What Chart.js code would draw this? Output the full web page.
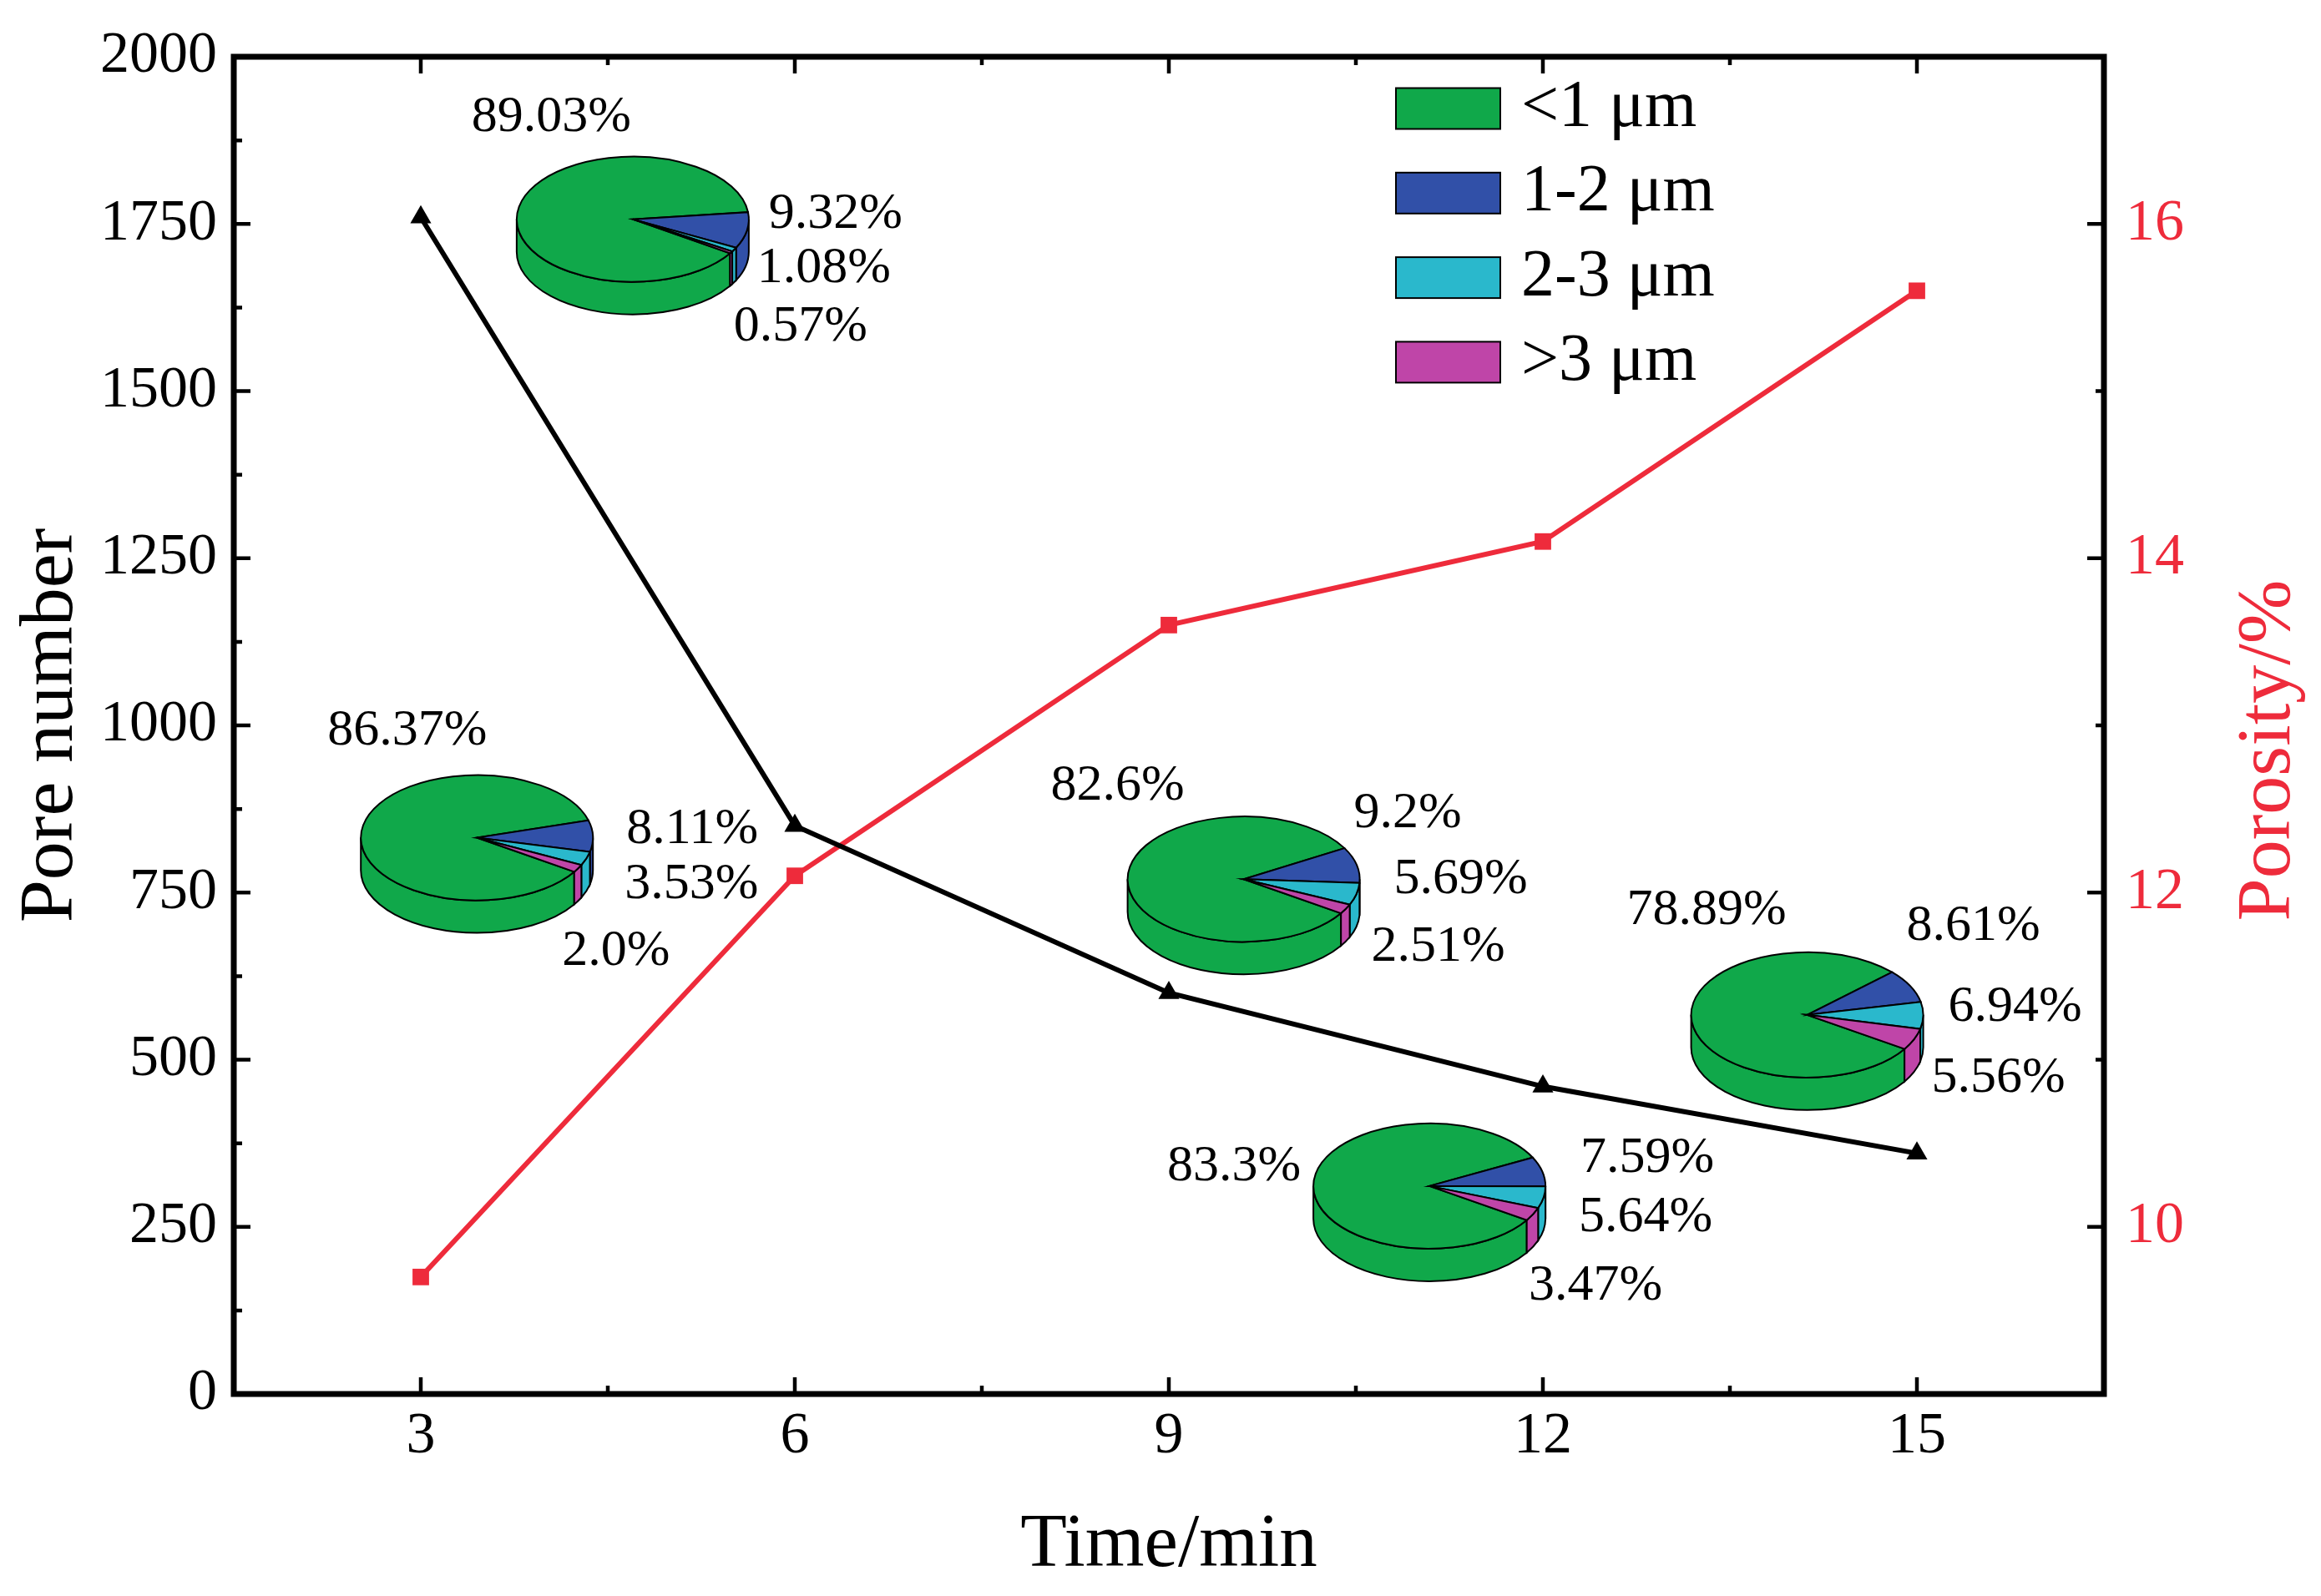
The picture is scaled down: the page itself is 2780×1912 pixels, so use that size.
<!DOCTYPE html>
<html>
<head>
<meta charset="utf-8">
<script src="https://cdn.jsdelivr.net/npm/chart.js@4.4.1/dist/chart.umd.min.js"></script>
<style>
  html, body { margin: 0; padding: 0; background: #fff; }
  canvas { display: block; }
</style>
</head>
<body>
<canvas id="poreChart" width="2780" height="1912"></canvas>
<script>
// Data
const times = [3, 6, 9, 12, 15];
const poreNumber = [1760, 850, 600, 460, 360];
const porosity = [9.7, 12.1, 13.6, 14.1, 15.6];
const poreTicks = [0, 250, 500, 750, 1000, 1250, 1500, 1750, 2000];
const porosityTicks = [10, 12, 14, 16];

// Pore size shares per pie (%), one entry per time step
const sizeClasses = ['<1 μm', '1-2 μm', '2-3 μm', '>3 μm'];
const shareLt1 = ['89.03', '86.37', '82.6', '83.3', '78.89'];
const share1to2 = ['9.32', '8.11', '9.2', '7.59', '8.61'];
const share2to3 = ['1.08', '3.53', '5.69', '5.64', '6.94'];
const shareGt3 = ['0.57', '2.0', '2.51', '3.47', '5.56'];

// Layout / styles
const FONT = '"Liberation Serif", "Times New Roman", serif';
const RED = '#ee2b3b';
const sliceColors = ['#10a84a', '#3150a8', '#2ab8cc', '#bf45a8'];
const PIE_RX = 139, PIE_RY = 75, PIE_DEPTH = 39;
const PIE_START = 33 * Math.PI / 180;
// pie centres in data units (time, pore number) and label offsets in px from the centre
const pieSpots = [
    { x: 4.70, y: 1757, labels: [[-193, -122], [163, -6], [149, 59], [121, 129]] },
    { x: 3.45, y: 832,  labels: [[-179, -128], [179, -10], [177, 56], [102, 136]] },
    { x: 9.60, y: 770,  labels: [[-231, -112], [132, -79], [180, 0], [153, 81]] },
    { x: 11.09, y: 311, labels: [[-314, -23], [181, -33], [179, 38], [119, 120]] },
    { x: 14.12, y: 567, labels: [[-216, -125], [119, -106], [169, -9], [149, 76]] }
];

// 3D pies and their labels
const piePlugin = {
    id: 'pies',
    afterDatasetsDraw(chart) {
        const { ctx, scales: { x, y } } = chart;
        ctx.save();
        ctx.lineWidth = 2;
        ctx.strokeStyle = '#000';
        pieSpots.forEach((spot, i) => {
            const cx = x.getPixelForValue(spot.x);
            const cy = y.getPixelForValue(spot.y);
            const texts = [shareLt1[i], share1to2[i], share2to3[i], shareGt3[i]];
            const vals = texts.map(Number);
            const total = vals.reduce((a, b) => a + b, 0);
            let a = PIE_START;
            const slices = vals.map((v, k) => {
                const s = { a0: a, a1: a + v / total * 2 * Math.PI, color: sliceColors[k] };
                a = s.a1;
                return s;
            });
            // front side walls
            slices.forEach(s => {
                [[0, Math.PI], [2 * Math.PI, 3 * Math.PI]].forEach(([lo, hi]) => {
                    const b0 = Math.max(s.a0, lo), b1 = Math.min(s.a1, hi);
                    if (b1 <= b0) return;
                    ctx.beginPath();
                    ctx.ellipse(cx, cy, PIE_RX, PIE_RY, 0, b0, b1);
                    ctx.ellipse(cx, cy + PIE_DEPTH, PIE_RX, PIE_RY, 0, b1, b0, true);
                    ctx.closePath();
                    ctx.fillStyle = s.color;
                    ctx.fill();
                    ctx.stroke();
                });
            });
            // top face
            slices.forEach(s => {
                ctx.beginPath();
                ctx.moveTo(cx, cy);
                ctx.ellipse(cx, cy, PIE_RX, PIE_RY, 0, s.a0, s.a1);
                ctx.closePath();
                ctx.fillStyle = s.color;
                ctx.fill();
                ctx.stroke();
            });
            // labels
            ctx.fillStyle = '#000';
            ctx.font = '62px ' + FONT;
            ctx.textAlign = 'left';
            ctx.textBaseline = 'middle';
            texts.forEach((t, k) => {
                const [dx, dy] = spot.labels[k];
                ctx.fillText(t + '%', cx + dx, cy + dy);
            });
        });
        ctx.restore();
    }
};

// Frame, inward ticks, legend and right axis title
const framePlugin = {
    id: 'frame',
    afterDraw(chart) {
        const { ctx, chartArea: ca, scales } = chart;
        const { x, y, y1 } = scales;
        const mids = arr => arr.slice(1).map((v, i) => (v + arr[i]) / 2);
        ctx.save();
        ctx.strokeStyle = '#000';
        ctx.lineWidth = 4.5;
        ctx.beginPath();
        times.forEach(v => {
            const px = x.getPixelForValue(v);
            ctx.moveTo(px, ca.bottom); ctx.lineTo(px, ca.bottom - 20);
            ctx.moveTo(px, ca.top); ctx.lineTo(px, ca.top + 20);
        });
        mids(times).forEach(v => {
            const px = x.getPixelForValue(v);
            ctx.moveTo(px, ca.bottom); ctx.lineTo(px, ca.bottom - 10);
            ctx.moveTo(px, ca.top); ctx.lineTo(px, ca.top + 10);
        });
        poreTicks.forEach(v => {
            const py = y.getPixelForValue(v);
            ctx.moveTo(ca.left, py); ctx.lineTo(ca.left + 20, py);
        });
        mids(poreTicks).forEach(v => {
            const py = y.getPixelForValue(v);
            ctx.moveTo(ca.left, py); ctx.lineTo(ca.left + 10, py);
        });
        porosityTicks.forEach(v => {
            const py = y1.getPixelForValue(v);
            ctx.moveTo(ca.right, py); ctx.lineTo(ca.right - 20, py);
        });
        mids(porosityTicks).forEach(v => {
            const py = y1.getPixelForValue(v);
            ctx.moveTo(ca.right, py); ctx.lineTo(ca.right - 10, py);
        });
        ctx.stroke();

        ctx.lineWidth = 7;
        ctx.strokeRect(ca.left, ca.top, ca.right - ca.left, ca.bottom - ca.top);

        // legend
        ctx.lineWidth = 2;
        ctx.font = '80px ' + FONT;
        ctx.textAlign = 'left';
        ctx.textBaseline = 'middle';
        sizeClasses.forEach((name, k) => {
            const cyL = 130 + k * 101.3;
            ctx.fillStyle = sliceColors[k];
            ctx.fillRect(1672, cyL - 24.5, 125, 49);
            ctx.strokeRect(1672, cyL - 24.5, 125, 49);
            ctx.fillStyle = '#000';
            ctx.fillText(name, 1822, cyL);
        });

        // right axis title, reading bottom to top
        ctx.translate(2718, 899);
        ctx.rotate(-Math.PI / 2);
        ctx.fillStyle = RED;
        ctx.font = '92px ' + FONT;
        ctx.textAlign = 'center';
        ctx.fillText('Porosity/%', 0, 0);
        ctx.restore();
    }
};

const plainTick = v => String(v);

const ctx = document.getElementById('poreChart').getContext('2d');
const poreChart = new Chart(ctx, {
    type: 'line',
    data: {
        datasets: [{
            label: 'Pore number',
            data: times.map((t, i) => ({ x: t, y: poreNumber[i] })),
            yAxisID: 'y',
            borderColor: '#000',
            backgroundColor: '#000',
            borderWidth: 6,
            pointStyle: 'triangle',
            pointRadius: 14.5,
            pointBorderWidth: 0,
            tension: 0
        }, {
            label: 'Porosity',
            data: times.map((t, i) => ({ x: t, y: porosity[i] })),
            yAxisID: 'y1',
            borderColor: RED,
            backgroundColor: RED,
            borderWidth: 6,
            pointStyle: 'rect',
            pointRadius: 14,
            pointBorderWidth: 0,
            tension: 0
        }]
    },
    options: {
        responsive: false,
        animation: false,
        devicePixelRatio: 1,
        layout: { padding: { top: 65, left: 0, right: 0, bottom: 0 } },
        plugins: {
            legend: { display: false },
            tooltip: { enabled: false }
        },
        scales: {
            x: {
                type: 'linear',
                min: 1.5,
                max: 16.5,
                afterBuildTicks: s => { s.ticks = times.map(v => ({ value: v })); },
                afterFit: s => { s.height = 242; },
                grid: { display: false, drawTicks: false },
                border: { display: false },
                ticks: { color: '#000', padding: 10, callback: plainTick, font: { family: FONT, size: 70 } },
                title: {
                    display: true, text: 'Time/min', color: '#000',
                    font: { family: FONT, size: 91 }, padding: { bottom: 5 }
                }
            },
            y: {
                position: 'left',
                min: 0,
                max: 2000,
                afterBuildTicks: s => { s.ticks = poreTicks.map(v => ({ value: v })); },
                afterFit: s => { s.width = 280; },
                grid: { display: false, drawTicks: false },
                border: { display: false },
                ticks: { color: '#000', padding: 20, callback: plainTick, font: { family: FONT, size: 70 } },
                title: {
                    display: true, text: 'Pore number', color: '#000',
                    font: { family: FONT, size: 92, lineHeight: 1 }, padding: { top: 16 }
                }
            },
            y1: {
                position: 'right',
                min: 9,
                max: 17,
                afterBuildTicks: s => { s.ticks = porosityTicks.map(v => ({ value: v })); },
                afterFit: s => { s.width = 260; },
                grid: { display: false, drawTicks: false },
                border: { display: false },
                ticks: { color: RED, padding: 26, callback: plainTick, font: { family: FONT, size: 70 } }
            }
        }
    },
    plugins: [piePlugin, framePlugin]
});
</script>
</body>
</html>
